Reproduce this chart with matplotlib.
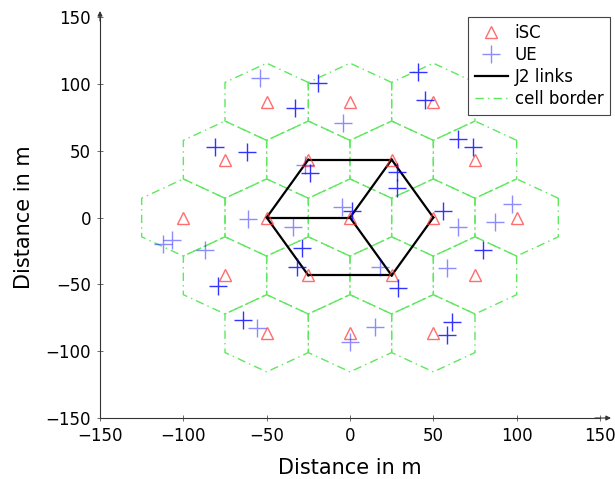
import numpy as np
import matplotlib
matplotlib.use("Agg")
import matplotlib.pyplot as plt

# iSC positions (cell centres)
isc_x = [-50, 0, 50,
         -75, -25, 25, 75,
         -100, -50, 0, 50, 100,
         -75, -25, 25, 75,
         -50, 0, 50]
isc_y = [86.6, 86.6, 86.6,
         43.3, 43.3, 43.3, 43.3,
         0, 0, 0, 0, 0,
         -43.3, -43.3, -43.3, -43.3,
         -86.6, -86.6, -86.6]

# J2 links as pairs of iSC indices
j2_links = [(8, 4), (4, 5), (5, 10), (10, 14), (14, 13), (13, 8),
            (9, 8), (9, 5), (9, 14)]

# UEs drawn darker (overlapping markers) and lighter
ue_dark_x = [-19, 45, 41, 65, 74, -81, -62, -33, -24, 28, 28, 1,
             -29, -32, 29, 80, -79, -64, 61, 58, 56]
ue_dark_y = [101, 88, 109, 59, 53, 53, 49, 82, 33, 34, 22, 5,
             -23, -37, -53, -24, -51, -77, -78, -88, 5]
ue_light_x = [-54, -4, -27, -5, -34, 18, -56, 65, 87, 97, 0, 15,
              58, -107, -112, -87, -61]
ue_light_y = [104, 71, 39, 8, -7, -37, -83, -7, -3, 10, -93, -82,
              -38, -17, -20, -24, -1]

ticks = [-150, -100, -50, 0, 50, 100, 150]

hex_r = 25 / np.cos(np.pi / 6)
green = "#5ee85e"

fig = plt.figure(figsize=(6.15, 4.79), dpi=100)
ax = fig.add_axes([0.1626, 0.1273, 0.813, 0.8372])

ang = np.deg2rad(np.arange(30, 420, 60))
for i, (cx, cy) in enumerate(zip(isc_x, isc_y)):
    ax.plot(cx + hex_r * np.cos(ang), cy + hex_r * np.sin(ang),
            color=green, lw=1.0, ls=(0, (6, 3, 1, 3)),
            label="cell border" if i == 0 else None, zorder=1)

for k, (a, b) in enumerate(j2_links):
    ax.plot([isc_x[a], isc_x[b]], [isc_y[a], isc_y[b]], color="black",
            lw=1.6, label="J2 links" if k == 0 else None, zorder=2)

ax.plot(isc_x, isc_y, ls="none", marker="^", ms=9, mfc="none",
        mec="#ff3030", mew=1.0, alpha=0.7, label="iSC", zorder=3)
ax.plot(ue_light_x, ue_light_y, ls="none", marker="+", ms=13, mew=1.0,
        color="blue", alpha=0.45, label="UE", zorder=4)
ax.plot(ue_dark_x, ue_dark_y, ls="none", marker="+", ms=13, mew=1.0,
        color="blue", alpha=0.8, zorder=4)

ax.set_xlim(-150, 150)
ax.set_ylim(-150, 150)
ax.set_xticks(ticks)
ax.set_yticks(ticks)
ax.set_xticklabels([str(t).replace("-", "\u2212") for t in ticks])
ax.set_yticklabels([str(t).replace("-", "\u2212") for t in ticks])
ax.tick_params(direction="inout", length=5, width=0.6, color="#555555",
               labelsize=12, pad=4)
for side in ["top", "right"]:
    ax.spines[side].set_visible(False)
for side in ["left", "bottom"]:
    ax.spines[side].set_linewidth(0.8)
    ax.spines[side].set_color("#333333")

ax.annotate("", xy=(1.022, 0), xytext=(0.99, 0), xycoords="axes fraction",
            arrowprops=dict(arrowstyle="-|>", lw=0.8, color="#333333",
                            mutation_scale=7, shrinkA=0, shrinkB=0))
ax.annotate("", xy=(0, 1.015), xytext=(0, 0.99), xycoords="axes fraction",
            arrowprops=dict(arrowstyle="-|>", lw=0.8, color="#333333",
                            mutation_scale=7, shrinkA=0, shrinkB=0))

ax.set_xlabel("Distance in m", fontsize=15, labelpad=9)
ax.set_ylabel("Distance in m", fontsize=15, labelpad=8)

handles, labels = ax.get_legend_handles_labels()
order = [labels.index(n) for n in ["iSC", "UE", "J2 links", "cell border"]]
leg = ax.legend([handles[i] for i in order], [labels[i] for i in order],
                loc="upper right", fontsize=12, fancybox=False,
                framealpha=1, edgecolor="#444444", handlelength=2.0,
                borderaxespad=0.0, labelspacing=0.25, handletextpad=0.4,
                bbox_to_anchor=(1.02, 1.0))
leg.get_frame().set_linewidth(0.8)
leg.set_zorder(10)

fig.savefig("out.png", dpi=100)
